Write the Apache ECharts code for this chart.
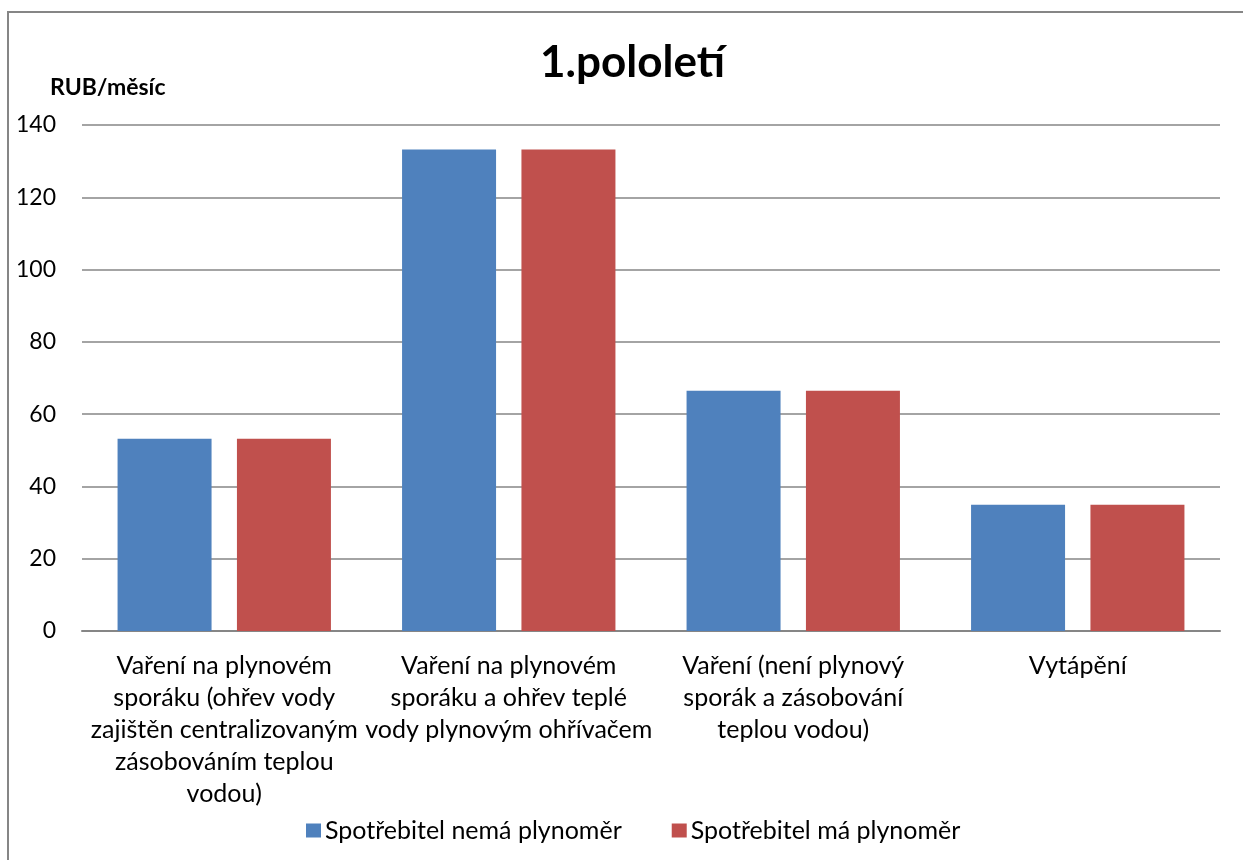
<!DOCTYPE html>
<html>
<head>
<meta charset="utf-8">
<script src="https://cdn.jsdelivr.net/npm/echarts@6/dist/echarts.min.js"></script>
<style>
  html, body { margin: 0; padding: 0; background: #fff; }
  #chart { width: 1243px; height: 860px; }
</style>
</head>
<body>
<div id="chart"></div>
<script>
// data
var categories = [
  'Vaření na plynovém\nsporáku (ohřev vody\nzajištěn centralizovaným\nzásobováním teplou\nvodou)',
  'Vaření na plynovém\nsporáku a ohřev teplé\nvody plynovým ohřívačem',
  'Vaření (není plynový\nsporák a zásobování\nteplou vodou)',
  'Vytápění'
];
var seriesNames = ['Spotřebitel nemá plynoměr', 'Spotřebitel má plynoměr'];
var noMeter = [53.2, 133.2, 66.5, 34.9];
var withMeter = [53.2, 133.2, 66.5, 34.9];
var yTicks = [0, 20, 40, 60, 80, 100, 120, 140];

var font = 'Lato, "Open Sans", sans-serif';
var chart = echarts.init(document.getElementById('chart'));
chart.setOption({
  animation: false,
  textStyle: { fontFamily: font },
  title: [{
    text: '1.pololetí',
    left: 535, top: 36,
    textStyle: { fontSize: 44, fontWeight: 'bold', color: '#000', fontFamily: font }
  }, {
    text: 'RUB/měsíc',
    left: 45, top: 71,
    textStyle: { fontSize: 23, fontWeight: 'bold', color: '#000', fontFamily: font }
  }],
  graphic: [{
    type: 'rect',
    shape: { x: 8, y: 12, width: 1300, height: 900 },
    style: { fill: 'none', stroke: '#868686', lineWidth: 2 },
    silent: true
  }],
  legend: {
    top: 813,
    left: 301,
    itemWidth: 15, itemHeight: 14,
    itemGap: 50,
    icon: 'rect',
    data: seriesNames,
    textStyle: { fontSize: 25, color: '#000', fontFamily: font, padding: [0, 0, 0, -1] }
  },
  grid: { left: 82, right: 23, top: 125, bottom: 229 },
  xAxis: {
    type: 'category',
    data: categories,
    axisTick: { show: false },
    axisLine: { lineStyle: { color: '#868686', width: 2 } },
    axisLabel: {
      interval: 0, margin: 19,
      fontSize: 25, lineHeight: 32, color: '#000', fontFamily: font
    }
  },
  yAxis: {
    type: 'value',
    min: yTicks[0], max: yTicks[yTicks.length - 1], interval: 20,
    axisLine: { show: false },
    axisTick: { show: false },
    splitLine: { lineStyle: { color: '#868686', width: 1.5 } },
    axisLabel: { fontSize: 23, margin: 26, color: '#000', fontFamily: font }
  },
  series: [{
    name: seriesNames[0],
    type: 'bar',
    data: noMeter,
    barWidth: 94,
    barGap: '27%',
    itemStyle: { color: '#4F81BD' }
  }, {
    name: seriesNames[1],
    type: 'bar',
    data: withMeter,
    barWidth: 94,
    barGap: '27%',
    itemStyle: { color: '#C0504D' }
  }]
});
</script>
</body>
</html>
